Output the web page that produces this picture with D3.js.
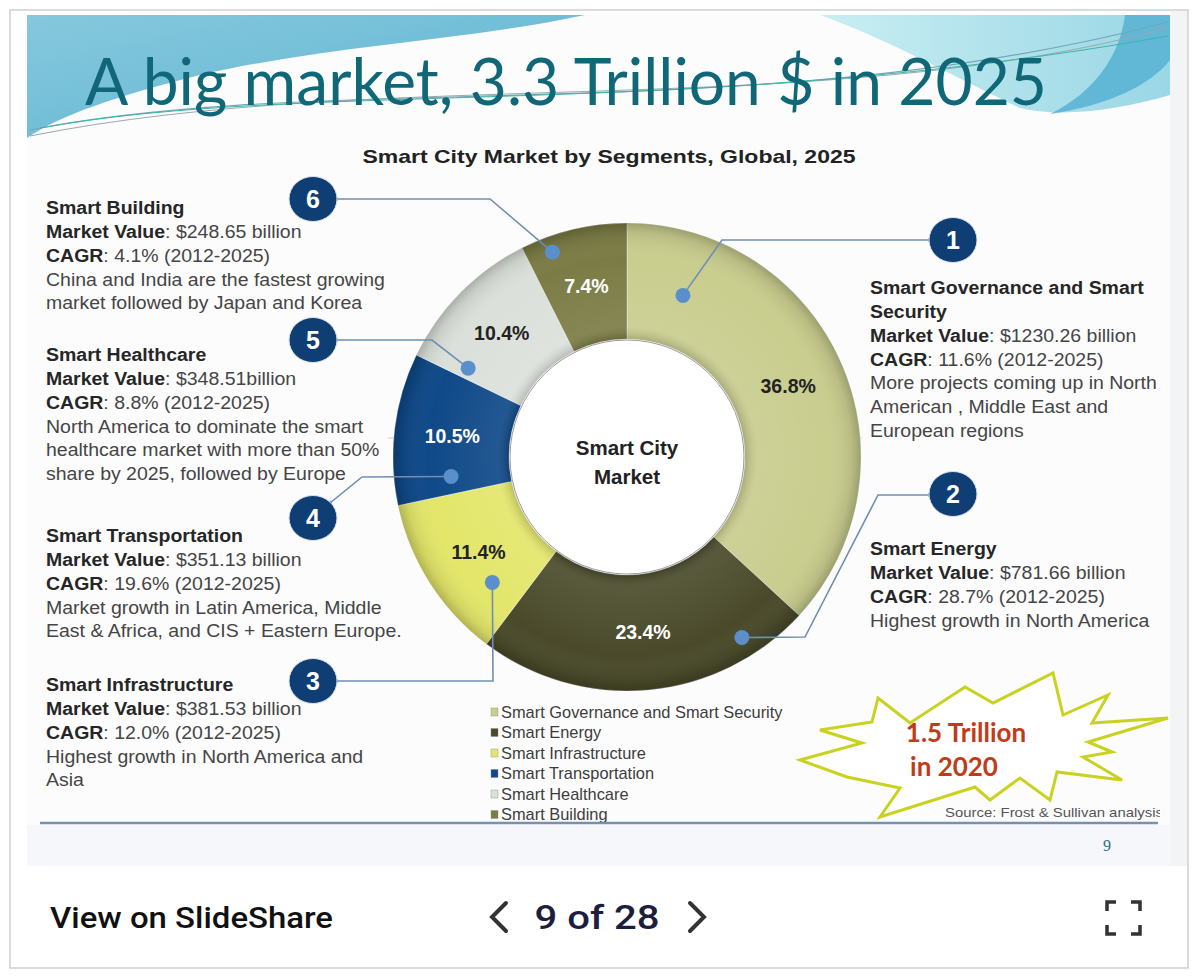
<!DOCTYPE html>
<html>
<head>
<meta charset="utf-8">
<script src="https://cdn.jsdelivr.net/npm/d3@7"></script>
<style>
  body { margin: 0; background: #ffffff; }
  svg { display: block; font-family: "Liberation Sans", Arial, sans-serif; }
</style>
</head>
<body>
<svg id="slide" width="1200" height="980"></svg>
<script>
// segment data (clockwise from 12 o'clock)
var segments = ["Smart Governance and Smart Security", "Smart Energy", "Smart Infrastructure",
                "Smart Transportation", "Smart Healthcare", "Smart Building"];
var shares = [36.8, 23.4, 11.4, 10.5, 10.4, 7.4];
var calloutNums = ["1", "2", "3", "4", "5", "6"];
var blockTitles = [["Smart Governance and Smart", "Security"], ["Smart Energy"], ["Smart Infrastructure"],
                   ["Smart Transportation"], ["Smart Healthcare"], ["Smart Building"]];
var marketValues = ["$1230.26 billion", "$781.66 billion", "$381.53 billion",
                    "$351.13 billion", "$348.51billion", "$248.65 billion"];
var cagrValues = ["11.6% (2012-2025)", "28.7% (2012-2025)", "12.0% (2012-2025)",
                  "19.6% (2012-2025)", "8.8% (2012-2025)", "4.1% (2012-2025)"];
var notes = [
  ["More projects coming up in North", "American , Middle East and", "European regions"],
  ["Highest growth in North America"],
  ["Highest growth in North America and", "Asia"],
  ["Market growth in Latin America, Middle", "East & Africa, and CIS + Eastern Europe."],
  ["North America to dominate the smart", "healthcare market with more than 50%", "share by 2025, followed by Europe"],
  ["China and India are the fastest growing", "market followed by Japan and Korea"]
];

var segColor = ["#c9cd8e", "#4a4a2b", "#e3e66a", "#0f4988", "#dbe1da", "#7b7c45"];
var labelColor = ["#222", "#fff", "#222", "#fff", "#222", "#fff"];

var svg = d3.select("#slide");
var defs = svg.append("defs");
defs.append("clipPath").attr("id", "slideClip")
  .append("rect").attr("x", 27).attr("y", 15).attr("width", 1133).attr("height", 851);

// ---- page frame ----
svg.append("rect").attr("x", 10).attr("y", 10).attr("width", 1178).attr("height", 958)
  .attr("fill", "#fff").attr("stroke", "#cfcfcf").attr("stroke-width", 1.5);
svg.append("rect").attr("x", 1170).attr("y", 11).attr("width", 17).attr("height", 855).attr("fill", "#f3f4f5");
svg.append("rect").attr("x", 27).attr("y", 15).attr("width", 1143).attr("height", 851).attr("fill", "#fcfcfd");

// ---- header waves ----
var g1 = defs.append("linearGradient").attr("id", "skyL").attr("x1", 0).attr("y1", 0).attr("x2", 1).attr("y2", 1);
g1.append("stop").attr("offset", 0).attr("stop-color", "#86c8dd");
g1.append("stop").attr("offset", 1).attr("stop-color", "#5db4d2");
var g2 = defs.append("linearGradient").attr("id", "skyR").attr("x1", 0).attr("y1", 0).attr("x2", 1).attr("y2", 0);
g2.append("stop").attr("offset", 0).attr("stop-color", "#c9eef2");
g2.append("stop").attr("offset", 1).attr("stop-color", "#9ad7e6");

svg.append("path").attr("fill", "url(#skyL)")
  .attr("d", "M27,15 L585,15 C470,40 330,45 200,75 C120,95 60,115 27,138 Z");
svg.append("path").attr("fill", "url(#skyR)")
  .attr("d", "M820,15 L1170,15 L1170,95 C1120,110 1060,118 1020,108 C960,80 890,40 820,15 Z");
svg.append("path").attr("fill", "#56b1d2").attr("opacity", 0.85)
  .attr("d", "M1125,15 L1170,15 L1170,60 C1150,85 1110,105 1050,114 C1095,92 1120,55 1125,15 Z");
svg.append("path").attr("fill", "none").attr("stroke", "#6fa9b5").attr("stroke-width", 1.2)
  .attr("d", "M30,130 C330,70 760,130 1168,22");
svg.append("path").attr("fill", "none").attr("stroke", "#9aa9ad").attr("stroke-width", 1)
  .attr("d", "M30,136 C380,66 820,122 1168,28");
svg.append("path").attr("fill", "none").attr("stroke", "#3fb5a7").attr("stroke-width", 1)
  .attr("d", "M40,128 C300,80 700,120 1168,36");

svg.append("text").attr("x", 85).attr("y", 105)
  .attr("font-family", "Lato, 'Open Sans', sans-serif").attr("font-size", 66)
  .attr("fill", "#0f6777").attr("textLength", 962).attr("lengthAdjust", "spacingAndGlyphs")
  .text("A big market, 3.3 Trillion $ in 2025");

svg.append("text").attr("x", 609).attr("y", 163).attr("text-anchor", "middle")
  .attr("font-size", 19).attr("font-weight", "bold").attr("fill", "#222")
  .attr("textLength", 493).attr("lengthAdjust", "spacingAndGlyphs")
  .text("Smart City Market by Segments, Global, 2025");

// ---- donut ----
var cx = 627, cy = 457, rOut = 234, rIn = 118;
var pie = d3.pie().sort(null).value(function(d) { return d; });
var arcs = pie(shares);
var arc = d3.arc().innerRadius(rIn).outerRadius(rOut);
var labelArc = d3.arc().innerRadius(176).outerRadius(176);

// faint guide line crossing the chart
svg.append("line").attr("x1", 388).attr("x2", 862).attr("y1", 438).attr("y2", 438)
  .attr("stroke", "#c9ced3").attr("stroke-width", 1);

var donut = svg.append("g").attr("transform", "translate(" + cx + "," + cy + ")");
donut.selectAll("path.slice")
  .data(arcs)
  .enter().append("path")
    .attr("class", "slice")
    .attr("d", arc)
    .attr("fill", function(d, i) { return segColor[i]; })
    .attr("stroke", "rgba(255,255,255,0.35)")
    .attr("stroke-width", 1);

var shade = defs.append("radialGradient").attr("id", "ringShade")
  .attr("gradientUnits", "userSpaceOnUse").attr("cx", 0).attr("cy", 0).attr("r", rOut);
shade.append("stop").attr("offset", 0.5).attr("stop-color", "#000").attr("stop-opacity", 0.18);
shade.append("stop").attr("offset", 0.56).attr("stop-color", "#fff").attr("stop-opacity", 0.08);
shade.append("stop").attr("offset", 0.85).attr("stop-color", "#fff").attr("stop-opacity", 0);
shade.append("stop").attr("offset", 0.96).attr("stop-color", "#000").attr("stop-opacity", 0.08);
shade.append("stop").attr("offset", 1).attr("stop-color", "#000").attr("stop-opacity", 0.22);
donut.append("path")
  .attr("d", d3.arc().innerRadius(rIn).outerRadius(rOut).startAngle(0).endAngle(2 * Math.PI)())
  .attr("fill", "url(#ringShade)");
donut.append("circle").attr("r", rIn - 1).attr("fill", "#fff")
  .attr("stroke", "#9a9a9a").attr("stroke-width", 1);

donut.selectAll("text.pct")
  .data(arcs)
  .enter().append("text")
    .attr("class", "pct")
    .attr("transform", function(d) { var c = labelArc.centroid(d); return "translate(" + c[0] + "," + (c[1] + 7) + ")"; })
    .attr("text-anchor", "middle")
    .attr("font-size", 19.5).attr("font-weight", "bold")
    .attr("fill", function(d, i) { return labelColor[i]; })
    .text(function(d) { return d.data.toFixed(1) + "%"; });

donut.append("text").attr("text-anchor", "middle").attr("y", -2)
  .attr("font-size", 20.5).attr("font-weight", "bold").attr("fill", "#222").text("Smart City");
donut.append("text").attr("text-anchor", "middle").attr("y", 27)
  .attr("font-size", 20.5).attr("font-weight", "bold").attr("fill", "#222").text("Market");

// ---- callouts ----
// where each leader starts inside its slice: [fraction of slice angle, radius]
var dotAt = [[0.144, 171], [0.177, 214], [0.246, 184], [0.15, 177], [0.09, 182], [0.25, 218]];
var badgePos = [[953, 240], [953, 494], [313, 681], [313, 518], [313, 340], [313, 199]];
var elbows = [[[722, 240]], [[805, 637], [878, 495]], [[493, 681]], [[362, 477]], [[432, 340]], [[490, 199]]];

arcs.forEach(function(d, i) {
  var a = d.startAngle + dotAt[i][0] * (d.endAngle - d.startAngle);
  var p = d3.pointRadial(a, dotAt[i][1]);
  var dot = [cx + p[0], cy + p[1]];
  var b = badgePos[i];
  var side = b[0] > cx ? -1 : 1;
  var end = [b[0] + side * 23, elbows[i][elbows[i].length - 1][1]];
  if (i == 3) end = [b[0] + 17, b[1] - 15];
  var pts = [dot].concat(elbows[i]).concat([end]);
  svg.append("path").attr("d", d3.line()(pts))
    .attr("fill", "none").attr("stroke", "#6f8fb2").attr("stroke-width", 1.6);
  svg.append("circle").attr("cx", dot[0]).attr("cy", dot[1]).attr("r", 7.5).attr("fill", "#5b8fcb");
  svg.append("circle").attr("cx", end[0]).attr("cy", end[1]).attr("r", 2.2).attr("fill", "#6f8fb2");
  svg.append("ellipse").attr("cx", b[0]).attr("cy", b[1]).attr("rx", 24).attr("ry", 22.5)
    .attr("fill", "#0e3e74").attr("stroke", "#d9e1ea").attr("stroke-width", 1);
  svg.append("text").attr("x", b[0]).attr("y", b[1] + 9).attr("text-anchor", "middle")
    .attr("font-size", 25).attr("font-weight", "bold").attr("fill", "#fff").text(calloutNums[i]);
});

// ---- text blocks ----
var blockPos = [[870, 288], [870, 549], [46, 685], [46, 536], [46, 355], [46, 208]];
var lineStep = 23.7;
var slideText = svg.append("g").attr("clip-path", "url(#slideClip)");
segments.forEach(function(s, i) {
  var x = blockPos[i][0];
  var g = slideText.append("g").attr("font-size", 18.3)
    .attr("transform", "translate(" + x + ",0) scale(1.065,1)");
  var y = blockPos[i][1] + 6.5;
  blockTitles[i].forEach(function(t) {
    g.append("text").attr("x", 0).attr("y", y).attr("font-weight", "bold").attr("fill", "#262626").text(t);
    y += lineStep;
  });
  var mv = g.append("text").attr("x", 0).attr("y", y).attr("fill", "#454545");
  mv.append("tspan").attr("font-weight", "bold").attr("fill", "#262626").text("Market Value");
  mv.append("tspan").text(": " + marketValues[i]);
  y += lineStep;
  var cg = g.append("text").attr("x", 0).attr("y", y).attr("fill", "#454545");
  cg.append("tspan").attr("font-weight", "bold").attr("fill", "#262626").text("CAGR");
  cg.append("tspan").text(": " + cagrValues[i]);
  y += lineStep;
  notes[i].forEach(function(t) {
    g.append("text").attr("x", 0).attr("y", y).attr("fill", "#454545").text(t);
    y += lineStep;
  });
});

// ---- legend ----
var legend = svg.append("g").attr("transform", "translate(491,712)");
var legendStep = 20.5;
legend.selectAll("rect")
  .data(segments)
  .enter().append("rect")
    .attr("x", 0).attr("y", function(d, i) { return i * legendStep - 4; })
    .attr("width", 7).attr("height", 8)
    .attr("fill", function(d, i) { return segColor[i]; })
    .attr("stroke", "#888").attr("stroke-width", 0.4);
legend.selectAll("text")
  .data(segments)
  .enter().append("text")
    .attr("x", 10).attr("y", function(d, i) { return i * legendStep + 5.5; })
    .attr("font-size", 16.4).attr("fill", "#3c3c3c")
    .text(function(d) { return d; });

// ---- starburst ----
var starPts = [[878, 698], [910, 723], [965, 687], [993, 703], [1053, 673], [1063, 715], [1108, 695],
               [1092, 723], [1168, 718], [1088, 742], [1112, 752], [1083, 757], [1122, 780],
               [1057, 772], [1050, 800], [1020, 778], [990, 800], [975, 787], [880, 817],
               [900, 788], [847, 777], [800, 760], [862, 743], [820, 730], [872, 722]];
svg.append("path").attr("d", d3.line()(starPts) + "Z")
  .attr("fill", "#fff").attr("stroke", "#c9d21e").attr("stroke-width", 3).attr("stroke-linejoin", "miter");
svg.append("text").attr("x", 966).attr("y", 742).attr("text-anchor", "middle")
  .attr("font-family", "Lato, 'Open Sans', sans-serif").attr("font-weight", "bold")
  .attr("font-size", 26).attr("fill", "#c23b18").text("1.5 Trillion");
svg.append("text").attr("x", 954).attr("y", 776).attr("text-anchor", "middle")
  .attr("font-family", "Lato, 'Open Sans', sans-serif").attr("font-weight", "bold")
  .attr("font-size", 26).attr("fill", "#c23b18").text("in 2020");

svg.append("g").attr("clip-path", "url(#slideClip)")
  .append("text").attr("x", 945).attr("y", 817).attr("font-size", 13.5).attr("fill", "#555")
  .attr("textLength", 218).attr("lengthAdjust", "spacingAndGlyphs")
  .text("Source: Frost & Sullivan analysis");

// ---- slide footer ----
svg.append("line").attr("x1", 40).attr("x2", 1158).attr("y1", 823).attr("y2", 823)
  .attr("stroke", "#7491b2").attr("stroke-width", 2.5);
svg.append("rect").attr("x", 27).attr("y", 825).attr("width", 1143).attr("height", 41).attr("fill", "#f5f7fa");
svg.append("text").attr("x", 1107).attr("y", 851).attr("text-anchor", "middle")
  .attr("font-family", "'Liberation Serif', serif").attr("font-size", 16).attr("fill", "#2a6c89").text("9");

// ---- viewer bar ----
svg.append("text").attr("x", 50).attr("y", 928).attr("font-size", 29).attr("fill", "#111")
  .attr("font-family", "Roboto, 'Liberation Sans', sans-serif").attr("font-weight", 500)
  .attr("textLength", 283).attr("lengthAdjust", "spacingAndGlyphs")
  .text("View on SlideShare");
svg.append("text").attr("x", 597).attr("y", 929).attr("text-anchor", "middle")
  .attr("font-family", "Roboto, 'Liberation Sans', sans-serif").attr("font-weight", 500)
  .attr("font-size", 34).attr("fill", "#1d1d3d")
  .attr("textLength", 125).attr("lengthAdjust", "spacingAndGlyphs").text("9 of 28");
svg.append("path").attr("d", "M506,903 L492,917 L506,931").attr("fill", "none")
  .attr("stroke", "#333").attr("stroke-width", 4).attr("stroke-linecap", "round");
svg.append("path").attr("d", "M690,903 L704,917 L690,931").attr("fill", "none")
  .attr("stroke", "#333").attr("stroke-width", 4).attr("stroke-linecap", "round");
svg.append("path")
  .attr("d", "M1107,911 L1107,902 L1116,902 M1131,902 L1140,902 L1140,911 M1140,925 L1140,934 L1131,934 M1116,934 L1107,934 L1107,925")
  .attr("fill", "none").attr("stroke", "#333").attr("stroke-width", 3.5);
</script>
</body>
</html>
